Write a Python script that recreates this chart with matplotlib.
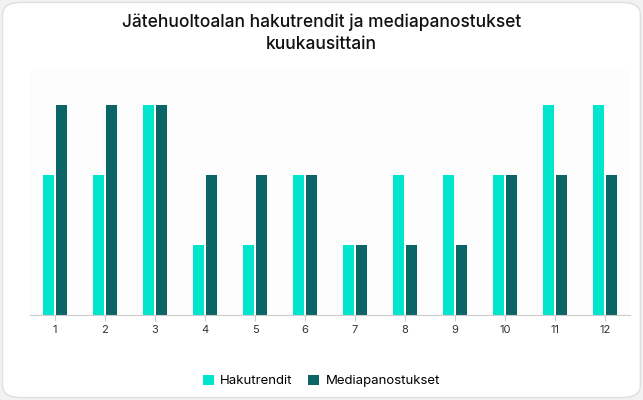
import matplotlib
matplotlib.use("Agg")
import matplotlib.pyplot as plt
from matplotlib.patches import FancyBboxPatch
import numpy as np

months = ["1","2","3","4","5","6","7","8","9","10","11","12"]
hakutrendit = [2,2,3,1,1,2,1,2,2,2,3,3]
media = [3,3,3,2,2,2,1,1,1,2,2,2]

fig = plt.figure(figsize=(6.43,4.0), dpi=100)
fig.patch.set_facecolor("#f2f2f2")
card = FancyBboxPatch((0.004,0.006),0.992,0.988, boxstyle="round,pad=0,rounding_size=0.03",
                      transform=fig.transFigure, facecolor="white", edgecolor="#e0e0e0", lw=1,
                      zorder=-10)
fig.patches.append(card)

ax = fig.add_axes([30/643, 1-315/400, 600/643, 245/400])
ax.set_zorder(5)
ax.set_facecolor("#fdfdfd")
x = np.arange(len(months))
w = 0.22
ax.bar(x - w/2 - 0.02, hakutrendit, w, color="#00e5cc", label="Hakutrendit")
ax.bar(x + w/2 + 0.02, media, w, color="#0b6466", label="Mediapanostukset")
ax.set_xlim(-0.5, 11.5)
ax.set_ylim(0, 3.5)
ax.set_yticks([])
ax.set_xticks(x)
ax.set_xticklabels(months, fontsize=8, color="#333333", family="Inter")
ax.tick_params(axis="x", length=4, color="#cccccc")
for s in ["top","right","left"]:
    ax.spines[s].set_visible(False)
ax.spines["bottom"].set_color("#cccccc")

fig.text(0.5, 1-33/400, "Jätehuoltoalan hakutrendit ja mediapanostukset\nkuukausittain",
         ha="center", va="center", fontsize=12.5, family="Inter", fontweight="medium",
         color="#111111", linespacing=1.4)
fig.legend(loc="center", bbox_to_anchor=(0.5, 1-381/400), ncol=2, frameon=False,
           prop={"family":"Inter","size":9.5}, handlelength=0.8, handleheight=0.8,
           columnspacing=1.2, handletextpad=0.5)
fig.savefig("out.png", dpi=100)
